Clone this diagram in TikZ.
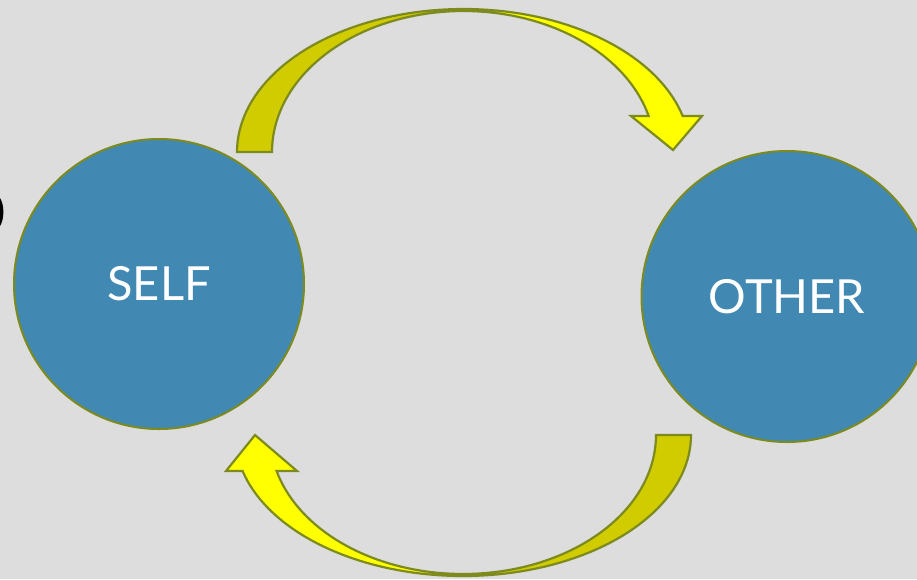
\documentclass[tikz,border=0pt]{standalone}
\usepackage{fontspec}
\setmainfont{Lato}
\definecolor{bg}{HTML}{DDDDDD}
\definecolor{discblue}{HTML}{4189B3}
\definecolor{olive}{HTML}{7D8A1E}
\definecolor{brightyel}{HTML}{FFFF00}
\definecolor{darkyel}{HTML}{D0CC00}
\tikzset{
  disc/.style={circle, fill=discblue, draw=olive, line width=2pt, minimum size=290pt, inner sep=0pt,
    text=white, font=\fontsize{47}{50}\selectfont},
  arrowline/.style={draw=olive, line width=2.2pt, line join=miter},
}
\begin{document}
\begin{tikzpicture}[x=1pt, y=-1pt]
\fill[bg] (0,0) rectangle (917,579);
\useasboundingbox (0,0) rectangle (917,579);
\clip (0,0) rectangle (917,579);

% clipped black glyph at the left edge
\fill[black] (0,198) .. controls (4.5,205) and (4.5,219) .. (0,226) -- cycle;

% discs
\node[disc] (self) at (159,284) {SELF};
\node[disc, minimum size=291pt] (other) at (787,296.5) {OTHER};

% ---- top arrow (SELF -> OTHER)
\fill[darkyel] plot[domain=180:270,samples=40] ({463.5+226.5*cos(\x)},{152+143*sin(\x)})
  -- plot[domain=270:180,samples=40] ({463.5+191.5*cos(\x)},{152+141*sin(\x)}) -- cycle;
\fill[brightyel] plot[domain=270:345.4,samples=40] ({463.5+226.5*cos(\x)},{152+143*sin(\x)})
  -- (702,116) -- (673,150) -- (631,116)
  -- plot[domain=345.2:270,samples=40] ({463.5+191.5*cos(\x)},{152+141*sin(\x)}) -- cycle;
\draw[arrowline] plot[domain=180:345.4,samples=80] ({463.5+226.5*cos(\x)},{152+143*sin(\x)})
  -- (702,116) -- (673,150) -- (631,116)
  -- plot[domain=345.2:180,samples=80] ({463.5+191.5*cos(\x)},{152+141*sin(\x)}) -- cycle;

% ---- bottom arrow (OTHER -> SELF)
\fill[darkyel] plot[domain=0:90,samples=40] ({463+228*cos(\x)},{435+141*sin(\x)})
  -- plot[domain=90:0,samples=40] ({463+193*cos(\x)},{435+139*sin(\x)}) -- cycle;
\fill[brightyel] plot[domain=90:165.2,samples=40] ({463+228*cos(\x)},{435+141*sin(\x)})
  -- (226,471) -- (255,435) -- (297,471)
  -- plot[domain=165:90,samples=40] ({463+193*cos(\x)},{435+139*sin(\x)}) -- cycle;
\draw[arrowline] plot[domain=0:165.2,samples=80] ({463+228*cos(\x)},{435+141*sin(\x)})
  -- (226,471) -- (255,435) -- (297,471)
  -- plot[domain=165:0,samples=80] ({463+193*cos(\x)},{435+139*sin(\x)}) -- cycle;
\end{tikzpicture}
\end{document}
